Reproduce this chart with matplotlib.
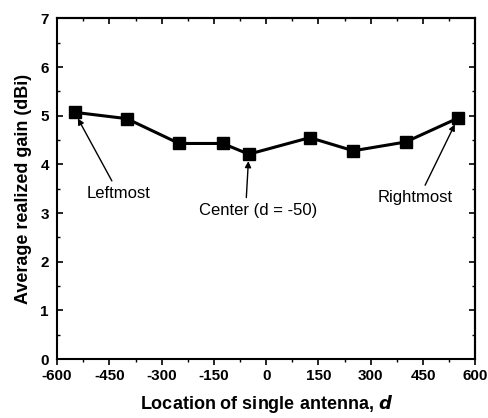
import matplotlib
matplotlib.use('Agg')
import matplotlib.pyplot as plt
from matplotlib.ticker import MultipleLocator

plt.rcParams['font.family'] = ['Liberation Sans', 'DejaVu Sans']
plt.rcParams['axes.unicode_minus'] = False

location = [-550, -400, -250, -125, -50, 125, 250, 400, 550]
gain = [5.07, 4.94, 4.43, 4.43, 4.21, 4.55, 4.28, 4.46, 4.95]

fig = plt.figure(figsize=(4.88, 4.18), dpi=100)
ax = fig.add_axes([0.117, 0.141, 0.857, 0.815])

ax.plot(location, gain, color='black', linewidth=2.2, marker='s',
        markersize=8.5, markerfacecolor='black', markeredgecolor='black')

ax.set_xlim(-600, 600)
ax.set_ylim(0, 7)
ax.xaxis.set_major_locator(MultipleLocator(150))
ax.xaxis.set_minor_locator(MultipleLocator(75))
ax.yaxis.set_major_locator(MultipleLocator(1))
ax.yaxis.set_minor_locator(MultipleLocator(0.5))

ax.tick_params(axis='x', which='both', direction='out', top=False, pad=3)
ax.tick_params(axis='y', which='both', direction='in', pad=6)
ax.tick_params(which='major', length=4, width=1.2, labelsize=11)
ax.tick_params(which='minor', length=2.5, width=1)
for lab in ax.get_xticklabels() + ax.get_yticklabels():
    lab.set_fontweight('bold')

# inward ticks on top and right
top = ax.secondary_xaxis('top')
top.xaxis.set_major_locator(MultipleLocator(150))
top.xaxis.set_minor_locator(MultipleLocator(75))
top.tick_params(which='both', direction='in', labeltop=False)
top.tick_params(which='major', length=4, width=1.2)
top.tick_params(which='minor', length=2.5, width=1)
right = ax.secondary_yaxis('right')
right.yaxis.set_major_locator(MultipleLocator(1))
right.yaxis.set_minor_locator(MultipleLocator(0.5))
right.tick_params(which='both', direction='in', labelright=False)
right.tick_params(which='major', length=4, width=1.2)
right.tick_params(which='minor', length=2.5, width=1)

for s in ax.spines.values():
    s.set_linewidth(1.5)
top.spines['top'].set_linewidth(1.5)
right.spines['right'].set_linewidth(1.5)

ax.set_xlabel('Location of single antenna, $\\bfit{d}$', fontsize=13,
              fontweight='bold', labelpad=7)
ax.set_ylabel('Average realized gain (dBi)', fontsize=13,
              fontweight='bold', labelpad=6)

arrow = dict(arrowstyle='-|>', color='black', linewidth=1, mutation_scale=9,
             shrinkA=2, shrinkB=5)
ax.annotate('Leftmost', xy=(location[0], gain[0]), xytext=(-423, 3.40),
            ha='center', va='center', fontsize=12, arrowprops=arrow)
ax.annotate('Center (d = -50)', xy=(location[4], gain[4]), xytext=(-24, 3.05),
            ha='center', va='center', fontsize=12,
            arrowprops=dict(arrow, relpos=(0.4, 1.0)))
ax.annotate('Rightmost', xy=(location[-1], gain[-1]), xytext=(427, 3.31),
            ha='center', va='center', fontsize=12,
            arrowprops=dict(arrow, relpos=(0.6, 1.0)))

fig.savefig('out.png', dpi=100)
